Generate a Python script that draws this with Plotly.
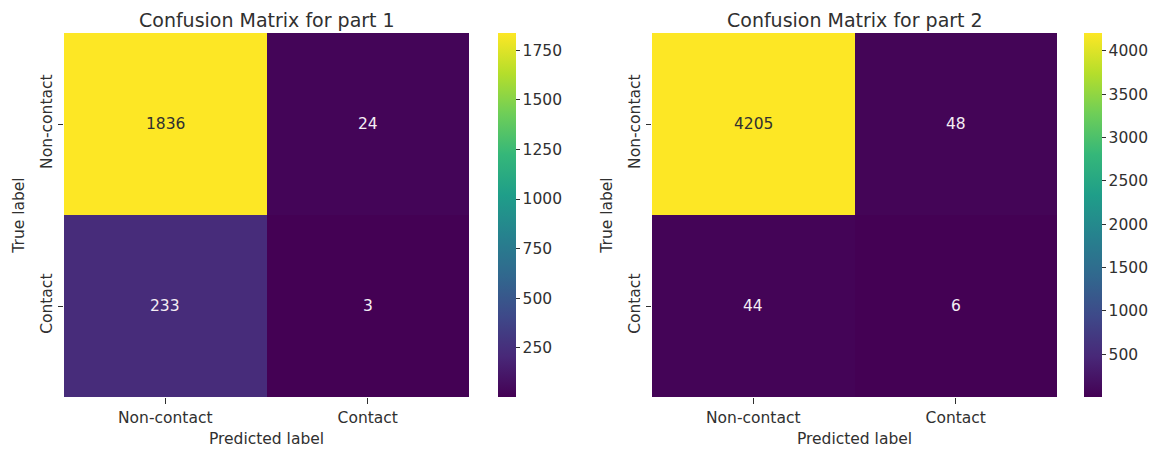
import plotly.graph_objects as go

# confusion matrix data
labels = ["Non-contact", "Contact"]
cm_part1 = [[1836, 24], [233, 3]]
cm_part2 = [[4205, 48], [44, 6]]
titles = ["Confusion Matrix for part 1", "Confusion Matrix for part 2"]
cbar_ticks1 = [250, 500, 750, 1000, 1250, 1500, 1750]
cbar_ticks2 = [500, 1000, 1500, 2000, 2500, 3000, 3500, 4000]

W, H = 1164, 453
OFF = 8  # page body margin shifts the figure
FONT = "DejaVu Sans"
TXT = "#303030"
FS = 15.5

fig = go.Figure()

panels = [
    (cm_part1, titles[0], cbar_ticks1, (64, 469), 498, "x", "y"),
    (cm_part2, titles[1], cbar_ticks2, (652, 1057), 1084, "x2", "y2"),
]
y_top, y_bot = 33 - OFF, 397 - OFF
ydom = [(H - y_bot) / H, (H - y_top) / H]

for i, (cm, title, ticks, (xl, xr), cbx, xa, ya) in enumerate(panels):
    xl, xr, cbx = xl - OFF, xr - OFF, cbx - OFF
    zmin = min(min(r) for r in cm)
    zmax = max(max(r) for r in cm)
    fig.add_trace(go.Heatmap(
        z=cm, x=labels, y=labels, xaxis=xa, yaxis=ya,
        colorscale="Viridis", zmin=zmin, zmax=zmax,
        showscale=True, hoverinfo="z",
        colorbar=dict(
            x=cbx / W, xanchor="left", thickness=18, xpad=0, ypad=0,
            y=ydom[0], yanchor="bottom", len=ydom[1] - ydom[0], lenmode="fraction",
            outlinewidth=0, ticks="outside", ticklen=4, tickcolor=TXT,
            tickvals=ticks, tickfont=dict(family=FONT, size=FS, color=TXT),
        ),
    ))
    mid = (zmin + zmax) / 2
    for r, row in enumerate(cm):
        for c, v in enumerate(row):
            fig.add_annotation(
                x=labels[c], y=labels[r], xref=xa, yref=ya, text=str(v), showarrow=False,
                font=dict(family=FONT, size=FS, color=TXT if v > mid else "#f4eef4"),
            )
    fig.add_annotation(
        x=(xl + xr) / 2 / W, y=1, xref="paper", yref="paper",
        xanchor="center", yanchor="top", borderpad=0,
        text=title, showarrow=False, font=dict(family=FONT, size=19, color=TXT),
    )
    axname = "xaxis" if i == 0 else "xaxis2"
    yname = "yaxis" if i == 0 else "yaxis2"
    fig.layout[axname] = dict(
        domain=[xl / W, xr / W], anchor=ya, showgrid=False, zeroline=False,
        automargin=False, ticks="outside", ticklen=6, tickcolor=TXT,
        tickfont=dict(family=FONT, size=FS, color=TXT),
        title=dict(text="Predicted label", font=dict(family=FONT, size=FS, color=TXT), standoff=7),
    )
    fig.layout[yname] = dict(
        domain=ydom, anchor=xa, showgrid=False, zeroline=False, autorange="reversed",
        automargin=False, ticks="outside", ticklen=5, tickcolor=TXT, tickangle=-90,
        tickfont=dict(family=FONT, size=FS, color=TXT),
        title=dict(text="True label", font=dict(family=FONT, size=FS, color=TXT), standoff=9),
    )

fig.update_layout(
    width=W, height=H, margin=dict(l=0, r=0, t=0, b=0),
    plot_bgcolor="white", paper_bgcolor="white", showlegend=False,
)

fig.write_html("out.html")
